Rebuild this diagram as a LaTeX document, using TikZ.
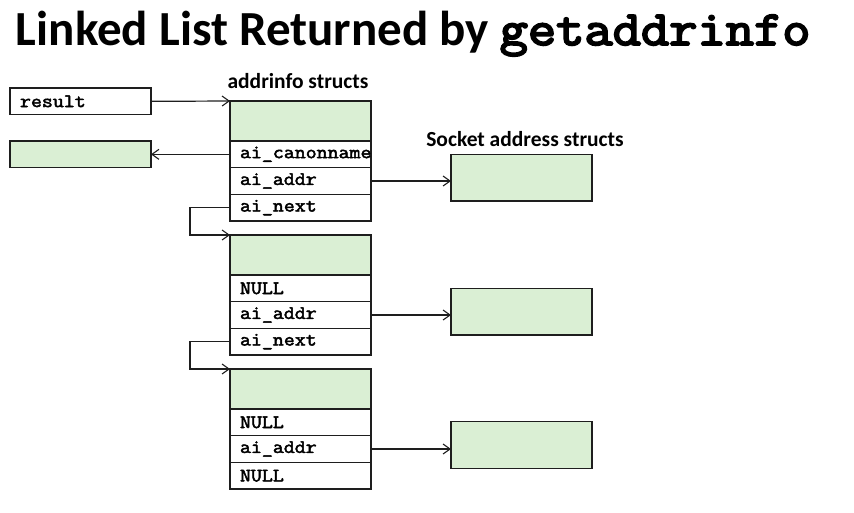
\documentclass[tikz,border=0pt]{standalone}
\usepackage{fontspec}
\usetikzlibrary{arrows.meta}
\newfontfamily\labfont{Carlito}
\newfontfamily\codefont{Latin Modern Mono}[FakeBold=2.6, FakeStretch=1.12]
\newfontfamily\titlecodefont{Latin Modern Mono}[FakeBold=4, FakeStretch=1.12]
\definecolor{boxgreen}{RGB}{218,239,212}
\definecolor{lineclr}{RGB}{30,30,30}
\newcommand{\codef}[1]{\codefont\fontsize{#1}{#1}\selectfont}
\begin{document}
\begin{tikzpicture}[x=1pt,y=-1pt,
  every node/.style={inner sep=0pt, outer sep=0pt},
  box/.style={draw=lineclr, line width=1.2pt, anchor=north west, minimum width=141pt},
  greenbox/.style={box, fill=boxgreen},
  head/.style={greenbox, minimum height=40pt},
  row/.style={box, minimum height=26.67pt, text width=121pt, align=left,
     font=\codef{19}},
  ptr/.style={draw=lineclr, line width=1.2pt, -{Straight Barb[length=7pt,width=10pt,line width=1.1pt]}},
  lab/.style={font=\labfont\bfseries\fontsize{21.5}{21.5}\selectfont, anchor=base}
]
\useasboundingbox (0,0) rectangle (854,512);
% title
\node[anchor=base west] (title) at (16,45)
  {\labfont\bfseries\fontsize{49}{49}\selectfont Linked List Returned by {\titlecodefont\fontsize{49}{49}\selectfont getaddrinfo}};
\node[lab] (addrlab) at (298,88) {addrinfo structs};
\node[lab] (socklab) at (525,146) {Socket address structs};
% left boxes
\node[box, minimum height=26.67pt, text width=121pt, align=left,
  font=\codef{19}] (res) at (10,88) {result};
\node[greenbox, minimum height=26.67pt] (cn) at (10,141) {};
% struct 1
\node[head] (s1h) at (230,101) {};
\node[row] (s1a) at (230,141) {ai\_canonname};
\node[row] (s1b) at (230,167.67) {ai\_addr};
\node[row] (s1c) at (230,194.33) {ai\_next};
% struct 2
\node[head] (s2h) at (230,235) {};
\node[row] (s2a) at (230,275) {NULL};
\node[row] (s2b) at (230,301.67) {ai\_addr};
\node[row] (s2c) at (230,328.33) {ai\_next};
% struct 3
\node[head] (s3h) at (230,369) {};
\node[row] (s3a) at (230,409) {NULL};
\node[row] (s3b) at (230,435.67) {ai\_addr};
\node[row] (s3c) at (230,462.33) {NULL};
% socket address boxes
\node[greenbox, minimum height=46.67pt] (sa1) at (451,154.33) {};
\node[greenbox, minimum height=46.67pt] (sa2) at (451,288.33) {};
\node[greenbox, minimum height=46.67pt] (sa3) at (451,421.67) {};
% pointers
\draw[ptr] (res.east) -- (s1h.north west);
\draw[ptr] (s1a.west) -- (cn.east);
\draw[ptr] (s1b.east) -- (s1b.east -| sa1.west);
\draw[ptr] (s2b.east) -- (s2b.east -| sa2.west);
\draw[ptr] (s3b.east) -- (s3b.east -| sa3.west);
\draw[ptr] (s1c.west) -- ++(-40,0) |- (s2h.north west);
\draw[ptr] (s2c.west) -- ++(-40,0) |- (s3h.north west);
\end{tikzpicture}
\end{document}
